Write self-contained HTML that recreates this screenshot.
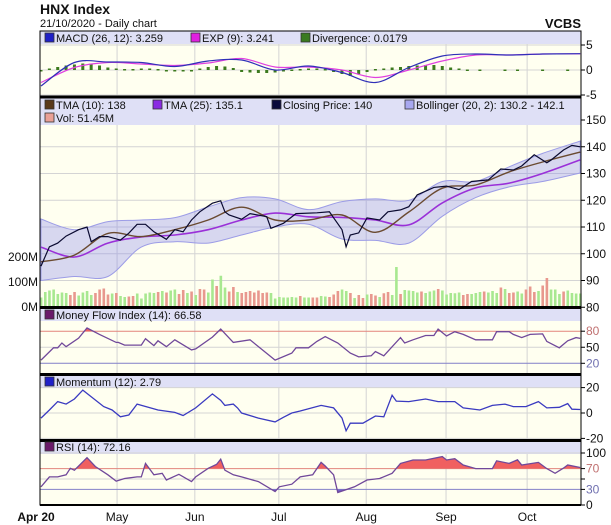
<!DOCTYPE html>
<html><head><meta charset="utf-8"><style>
body{margin:0;background:#fff;}
svg{display:block;font-family:"Liberation Sans",Arial,sans-serif;}
</style></head><body>
<svg id="c" width="611" height="525" viewBox="0 0 611 525" xmlns="http://www.w3.org/2000/svg">
<text x="40" y="14" font-size="14" font-weight="bold" fill="#111">HNX Index</text>
<text x="40" y="27" font-size="11" fill="#111">21/10/2020 - Daily chart</text>
<text x="581" y="28" font-size="13" font-weight="bold" fill="#111" text-anchor="end">VCBS</text>
<g id="g"></g>
</svg>
<script>
// ---------- data ----------
const monthLabels = ["May","Jun","Jul","Aug","Sep","Oct"];
const monthDays = [18.2,36.8,56.9,77.8,96.9,116.3];
const priceDays = [0,2,4,6,9,11,12,14,16,19,21,23,25,27,30,32,34,36,38,41,43,44,45,48,50,54,55,58,61,66,69,72,73,74,76,78,81,83,86,88,90,94,97,100,103,107,110,113,115,118,121,122,125,127,129];
const closePrice = [95.4,102.6,104,106.6,109,110,104.5,106.4,106.4,105.1,107.7,111,111,108.2,105.4,109,108.2,112.6,115.7,118.9,119.8,115.7,114.5,112.9,115,113.9,109.5,111.4,115,115.3,115.7,109,102.6,107,107.8,113.4,112.6,115.7,116.4,117.6,122,124.8,125.3,124,127,127.6,131.7,131.3,132.8,137,134,135,138.8,140.5,140];
const sampleDays = [0,8,16,24,32,40,48,56,64,72,80,88,96,104,112,120,129];
const tma10 = [97,99.5,107.6,106.4,109,112.6,117.4,112.6,112.6,114.5,108,115.6,124.5,125.7,130.6,134.3,138];
const tma25 = [102.5,98.8,104,106.3,107,109,112.6,115.2,113.8,113.6,112.6,110.8,119,124.6,126.4,130,135.1];
const bollUpper = [113,109,112,112.6,113.5,117.5,121,120.5,116.5,119.5,120.5,120,127,127,132.5,137.5,142.1];
const bollLower = [90,91.5,91.5,102.5,104.5,104,107,110,111,105.5,105,104,114,121,125,127,130.2];
const macdLine = [-3.2,1.5,1.6,1.5,0.7,1.8,2.0,0.0,0.8,-0.5,-2.5,0.5,2.8,3.2,3.0,3.2,3.26];
const expLine = [-2.5,0.5,1.5,1.2,0.9,1.4,2.3,0.6,0.6,0.0,-1.5,0.0,1.8,3.0,3.0,3.2,3.24];
const divDays = [0,2,4,6,8,10,12,14,16,18,20,22,24,26,28,30,32,34,36,38,40,42,44,46,48,50,52,54,56,58,60,62,64,66,68,70,72,74,76,78,80,82,84,86,88,90,92,94,96,98,100,102,105,111,114,120,126];
const divergence = [-0.3,0.3,0.6,0.9,1.1,1.3,1.3,0.9,0.5,0.3,0.2,0.2,0.3,0.3,0.2,-0.2,-0.2,-0.2,-0.1,0.3,0.6,0.8,0.7,0.4,-0.4,-0.5,-0.6,-0.6,-0.5,-0.3,0.1,0.2,0.3,0.3,0.2,-0.4,-0.8,-1.2,-0.8,-0.4,0.2,0.3,0.5,0.6,0.8,0.9,1.0,1.0,0.8,0.5,0.3,0.1,0.1,0.1,0.1,0.1,0.1];
const volume = [38,60,66,70,52,58,56,48,60,46, 58,64,48,56,70,74,50,54,56,44, 40,42,44,54,34,54,58,56,60,64, 58,66,70,52,68,56,62,48,72,70, 58,110,84,125,78,62,80,60,56,60, 64,58,66,56,58,56,34,40,38,38, 40,38,44,38,38,38,38,44,42,40, 50,64,70,64,56,36,48,36,50,52, 46,40,55,60,48,160,52,68,66,64, 58,62,56,62,66,72,66,50,56,55, 58,48,52,52,56,60,62,58,64,56, 78,72,56,58,62,54,70,82,60,64, 86,116,70,70,52,62,66,56,54,54];
const volDir = "gggggggrrggggrrrrgrggrrgggggrgrggrrgrgrrggrggrrgrrrrrrrgggggggrggrrggrrrggrgrrgrrgrrggrggggrgggrgggggrrgggrgggrgrrggrrrgrrgggrg";
const mfiDays = [0,3,4,5,6,9,11,14,18,18.5,20,24,25,27,28,30,32,36,37,41,43,46,50,56,60,61,64,66,68,71,74,76,79,80,82,86,87,89,92,94,95,97,99,101,104,108,109,112,113,115,117,120,121,124,126,128,129];
const mfi = [26,49,49,58,51,67,86,74,59,59,54,54,66,53,62,51,64,45,47,69,84,59,64,26,39,49,49,61,70,58,39,32,34,42,34,68,58,64,72,72,84,71,79,74,64,64,79,79,74,68,74,75,61,49,62,68,66.58];
const momDays = [0,2,4,6,8,10,15,17,19,21,23,28,32,34,37,41,43,44,46,47,48,52,56,58,60,62,67,70,72,73,74,77,80,82,84,85,88,92,95,99,101,105,108,111,113,116,119,121,124,126,127,129];
const momentum = [-4,2.4,9,7,11,18,5,2.4,-3,-1.6,7,2.4,0.5,-2,4,15,10,6,7,4,0,-4,-7,-3.4,0,1.6,6,4,-4,-14,-8,-8,-2.4,-3,14,9.4,9,11,9,9,4,2.4,6,7,5,5,9,4,4.5,7.4,3,2.79];
const rsiDays = [0,2,4,6,7,8,11,13,16,18,20,23,24,25,27,29,30,33,36,37,40,42,43,44,46,48,52,56,57,60,62,65,67,68,70,71,75,78,81,84,86,89,92,96,97,99,101,104,108,109,112,114,115,119,121,123,125,126,129];
const rsi = [35,54,54,58,70.5,67,91,74,58,46,51,54,54,80,58,61,48,59,45,54,70.5,78,88,67,58,54,45,26,35,40,54,58,82,75,58,24,35,48,51,61,80,86.5,86.5,93,86.5,89,77,70,70,85,80,87,77,82,70,61,71,77,72.16];

// ---------- geometry ----------
const X0 = 41, XS = 4.18;
function xd(d){ return X0 + d*XS; }
function yP(v){ return 120 + (150-v)*2.675; }
function yV(v){ return 307 - v*0.25; }
function yM(v){ return 70 - v*5; }
function yF(v){ return 374 - v*0.535; }
function yMo(v){ return 413 - v*1.27; }
function yR(v){ return 505 - v*0.52; }

const NS = "http://www.w3.org/2000/svg";
const g = document.getElementById('g');
function el(tag, attrs, parent){
  const e = document.createElementNS(NS, tag);
  for (const k in attrs) e.setAttribute(k, attrs[k]);
  (parent||g).appendChild(e);
  return e;
}
function pts(days, vals, fy){ return days.map((d,i)=>xd(d).toFixed(1)+','+fy(vals[i]).toFixed(1)).join(' '); }
function smoothD(days, vals, fy){
  const P = days.map((d,i)=>[xd(d), fy(vals[i])]);
  let s = 'M'+P[0][0].toFixed(1)+','+P[0][1].toFixed(1);
  for (let i=0;i<P.length-1;i++){
    const p0=P[Math.max(i-1,0)], p1=P[i], p2=P[i+1], p3=P[Math.min(i+2,P.length-1)];
    const c1=[p1[0]+(p2[0]-p0[0])/6, p1[1]+(p2[1]-p0[1])/6];
    const c2=[p2[0]-(p3[0]-p1[0])/6, p2[1]-(p3[1]-p1[1])/6];
    s += ' C'+c1[0].toFixed(1)+','+c1[1].toFixed(1)+' '+c2[0].toFixed(1)+','+c2[1].toFixed(1)+' '+p2[0].toFixed(1)+','+p2[1].toFixed(1);
  }
  return s;
}

// panel backgrounds
const panels = [[31,97,44,'macd'],[98,307,125,'price'],[308,374,321,'mfi'],[375,440,388,'momentum'],[441,505,454,'rsi']];
panels.forEach(p=>{
  let r = el('rect',{x:40,y:p[0],width:541,height:p[1]-p[0],fill:'#fffff0'});
  
  
  let b = el('rect',{x:40,y:p[0],width:541,height:p[2]-p[0],fill:'#dfe0f6'});
  
  
});

// vertical month gridlines
monthDays.forEach((d,i)=>{
  [[44,97],[125,307],[321,374],[388,440],[454,505]].forEach(r=>{
    let l = el('line',{x1:xd(d),x2:xd(d),y1:r[0],y2:r[1],stroke:'#d4d4d4','stroke-width':1});
    
    
  });
  let t = el('text',{x:xd(d),y:521,'font-size':12,'text-anchor':'middle',fill:'#111'});
  t.textContent = monthLabels[i];
  
  
});
let ta = el('text',{x:36,y:521,'font-size':12,'font-weight':'bold','text-anchor':'middle',fill:'#111'});
ta.textContent = 'Apr 20';



// horizontal grids + right labels
function hgrid(y, label, color, lineColor, name){
  let l = el('line',{x1:40,x2:581,y1:y,y2:y,stroke:lineColor||'#d4d4d4','stroke-width':1});
  
  
  el('line',{x1:581,x2:585,y1:y,y2:y,stroke:'#000'});
  if (label!==null){
    let t = el('text',{x:586,y:y+4,'font-size':12,fill:color||'#111'});
    t.textContent = label;
    
    
  }
}
const macdTicks = [5,0,-5];
macdTicks.forEach(v=>hgrid(yM(v), String(v), null, null, 'macd-y'));
const priceTicks = [150,140,130,120,110,100,90,80];
priceTicks.forEach(v=>hgrid(yP(v), String(v), null, v===150?'#dfe0f6':null, 'price-y'));
hgrid(yF(80),'80','#c07070','#e08a80','mfi-y');
hgrid(yF(50),'50',null,null,'mfi-y');
hgrid(yF(20),'20','#7070b0','#8585c8','mfi-y');
const momTicks = [20,0,-20];
momTicks.forEach(v=>hgrid(yMo(v), String(v), null, null, 'momentum-y'));
hgrid(yR(100),'100',null,null,'rsi-y');
hgrid(yR(70),'70','#c07070','#e08a80','rsi-y');
hgrid(yR(50),null,null,null,'rsi-y');
hgrid(yR(30),'30','#7070b0','#8585c8','rsi-y');
hgrid(yR(0),'0',null,null,'rsi-y');

// volume labels
const volTicks = [200,100,0];
volTicks.forEach(v=>{
  let t = el('text',{x:38,y:yV(v)+4,'font-size':12,'text-anchor':'end',fill:'#111'});
  t.textContent = v+'M';
  
  
});

// volume bars
volume.forEach((v,i)=>{
  let b = el('rect',{x:xd(i)-1.2,y:yV(v),width:2.6,height:307-yV(v),fill:volDir[i]==='r'?'#e8988e':'#a8e890'});
  
  
});

// bollinger band (smooth)
const up = smoothD(sampleDays,bollUpper,yP);
const revDays = sampleDays.slice().reverse(), revLow = bollLower.slice().reverse();
const lo = smoothD(revDays,revLow,yP).replace(/^M/,'L');
let band = el('path',{d:up+' '+lo+' Z',fill:'rgba(130,130,235,0.32)',stroke:'#9c9ce6','stroke-width':1});



let l25 = el('path',{d:smoothD(sampleDays,tma25,yP),fill:'none',stroke:'#9a30d8','stroke-width':1.6});


let l10 = el('path',{d:smoothD(sampleDays,tma10,yP),fill:'none',stroke:'#6a4a30','stroke-width':1.4});


let lc = el('polyline',{points:pts(priceDays,closePrice,yP),fill:'none',stroke:'#0a0a30','stroke-width':1.2});



// MACD
divergence.forEach((v,i)=>{
  let y = yM(v), h = Math.max(Math.abs(yM(0)-y),1.5);
  let b = el('rect',{x:xd(divDays[i])-1.5,y:Math.min(y,yM(0)),width:3,height:h,fill:'#3c7a1e'});
  
  
});
let le = el('path',{d:smoothD(sampleDays,expLine,yM),fill:'none',stroke:'#e040e0','stroke-width':1.2});


let lm = el('path',{d:smoothD(sampleDays,macdLine,yM),fill:'none',stroke:'#3030b8','stroke-width':1.2});



// threshold fills
let defs = el('defs',{});
function clip(id,y1,y2){ const c = el('clipPath',{id:id},defs); el('rect',{x:40,y:y1,width:541,height:y2-y1},c); }
function fillBetween(days, vals, fy, thr, color, clipId, name){
  const ty = fy(thr);
  const p = xd(days[0]).toFixed(1)+','+ty+' '+pts(days,vals,fy)+' '+xd(days[days.length-1]).toFixed(1)+','+ty;
  let a = el('polygon',{points:p,fill:color,'clip-path':'url(#'+clipId+')'});
  
  
}
clip('mfiHi',321,yF(80)); clip('mfiLo',yF(20),374);
clip('rsiHi',454,yR(70)); clip('rsiLo',yR(30),505);
fillBetween(mfiDays,mfi,yF,80,'#f06060','mfiHi','mfi-overbought-fill');
fillBetween(mfiDays,mfi,yF,20,'#7060c8','mfiLo','mfi-oversold-fill');
fillBetween(rsiDays,rsi,yR,70,'#f06060','rsiHi','rsi-overbought-fill');
fillBetween(rsiDays,rsi,yR,30,'#7060c8','rsiLo','rsi-oversold-fill');

let lf = el('polyline',{points:pts(mfiDays,mfi,yF),fill:'none',stroke:'#70489a','stroke-width':1.3});


let lmo = el('polyline',{points:pts(momDays,momentum,yMo),fill:'none',stroke:'#3a3ac0','stroke-width':1.3});


let lr = el('polyline',{points:pts(rsiDays,rsi,yR),fill:'none',stroke:'#70489a','stroke-width':1.3});



// borders / separators
let ob = el('rect',{x:40,y:31,width:541,height:474,fill:'none',stroke:'#000','stroke-width':1});


[97,307.5,374.5,440.5].forEach(y=>{
  let s = el('line',{x1:40,x2:581,y1:y,y2:y,stroke:'#000','stroke-width':3});
  
  
});
el('line',{x1:40,x2:581,y1:505,y2:505,stroke:'#000','stroke-width':2});

// legends
function legend(x,y,color,text,name){
  let s = el('rect',{x:x,y:y-9,width:9,height:9,fill:color,stroke:'#333','stroke-width':0.8});
  
  
  let t = el('text',{x:x+11,y:y,'font-size':11,fill:'#111'});
  t.textContent = text;
  
  
}
legend(45,42,'#2020c8','MACD (26, 12): 3.259','macd');
legend(191,42,'#e020e0','EXP (9): 3.241','exp');
legend(301,42,'#3a7a20','Divergence: 0.0179','divergence');
legend(45,109,'#5a3a1a','TMA (10): 138','tma-10');
legend(153,109,'#8a2be2','TMA (25): 135.1','tma-25');
legend(272,109,'#0a0a3a','Closing Price: 140','closing-price');
legend(405,109,'#a8a8f0','Bollinger (20, 2): 130.2 - 142.1','bollinger');
legend(45,122,'#eaa096','Vol: 51.45M','volume');
legend(45,319,'#6a1a6a','Money Flow Index (14): 66.58','mfi');
legend(45,386,'#2020c8','Momentum (12): 2.79','momentum');
legend(45,451,'#6a1a6a','RSI (14): 72.16','rsi');
</script>
</body></html>
